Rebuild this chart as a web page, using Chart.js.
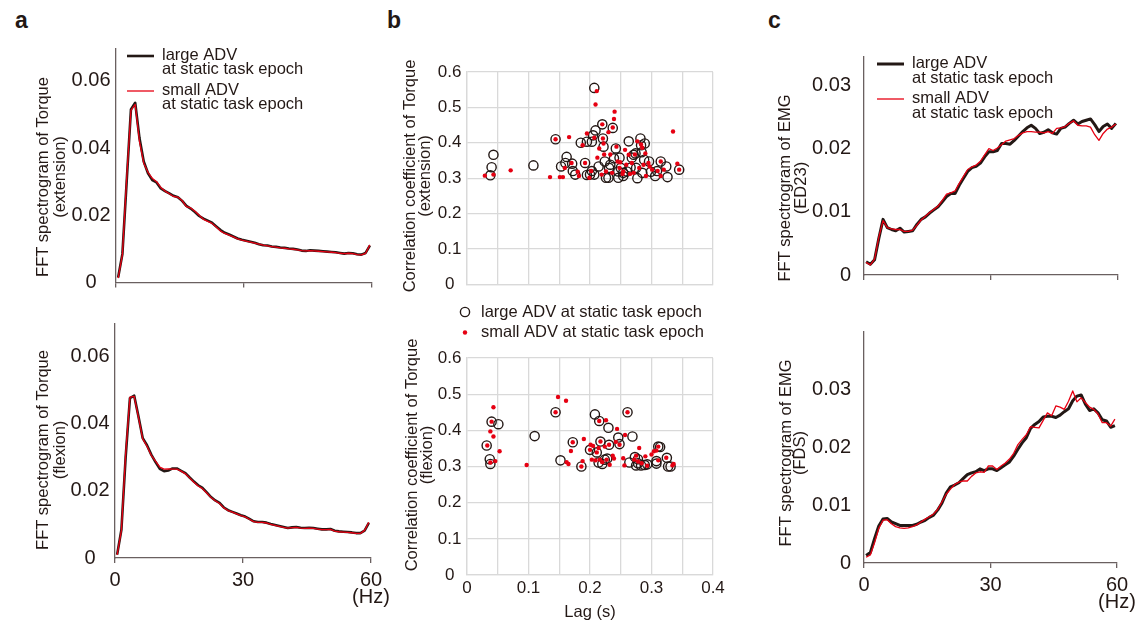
<!DOCTYPE html>
<html>
<head>
<meta charset="utf-8">
<script src="https://cdn.jsdelivr.net/npm/chart.js@4.4.1/dist/chart.umd.min.js"></script>
<style>
body { margin: 0; background: #fff; }
#fig { position: relative; width: 1137px; height: 620px; overflow: hidden; font-family: "Liberation Sans", Arial, sans-serif; color: #231815; }
#fig canvas { position: absolute; }
.lab { position: absolute; font-weight: bold; font-size: 23px; line-height: 1; }
</style>
</head>
<body>
<div id="fig">
  <div class="lab" style="left:15px;top:9px">a</div>
  <div class="lab" style="left:387px;top:9px">b</div>
  <div class="lab" style="left:768px;top:9px">c</div>
  <canvas id="cA1" width="400" height="300" style="left:0;top:0"></canvas>
  <canvas id="cA2" width="400" height="320" style="left:0;top:300px"></canvas>
  <canvas id="cB1" width="370" height="300" style="left:385px;top:0"></canvas>
  <canvas id="cB2" width="370" height="320" style="left:385px;top:300px"></canvas>
  <canvas id="cC1" width="400" height="300" style="left:755px;top:0"></canvas>
  <canvas id="cC2" width="400" height="320" style="left:755px;top:300px"></canvas>
</div>
<script>
// frequency bins (Hz)
const freqs = [0.5, 1.5, 2.5, 3.5, 4.5, 5.5, 6.5, 7.5, 8.5, 9.5,
  10.5, 11.5, 12.5, 13.5, 14.5, 15.5, 16.5, 17.5, 18.5, 19.5,
  20.5, 21.5, 22.5, 23.5, 24.5, 25.5, 26.5, 27.5, 28.5, 29.5,
  30.5, 31.5, 32.5, 33.5, 34.5, 35.5, 36.5, 37.5, 38.5, 39.5,
  40.5, 41.5, 42.5, 43.5, 44.5, 45.5, 46.5, 47.5, 48.5, 49.5,
  50.5, 51.5, 52.5, 53.5, 54.5, 55.5, 56.5, 57.5, 58.5, 59.5];

// a: torque spectra
const torqueExtLarge = [0.0015, 0.0085, 0.030, 0.0515, 0.0535, 0.043, 0.036, 0.0325, 0.0305, 0.0298,
  0.028, 0.0272, 0.0265, 0.0258, 0.0254, 0.0243, 0.0228, 0.0220, 0.0210, 0.0198,
  0.0190, 0.0184, 0.0178, 0.0167, 0.0156, 0.0148, 0.0143, 0.0137, 0.0131, 0.0127,
  0.0124, 0.0121, 0.0118, 0.0114, 0.0111, 0.0110, 0.0107, 0.0106, 0.0104, 0.0103,
  0.0101, 0.0100, 0.0098, 0.0095, 0.0094, 0.0096, 0.0095, 0.0094, 0.0093, 0.0092,
  0.0091, 0.0090, 0.0088, 0.0086, 0.0088, 0.0087, 0.0084, 0.0083, 0.0088, 0.0110];
const torqueExtSmall = [0.0013, 0.0083, 0.031, 0.0512, 0.0530, 0.042, 0.0355, 0.0328, 0.031, 0.0300,
  0.0283, 0.0272, 0.0264, 0.0256, 0.0254, 0.0244, 0.0226, 0.0222, 0.0212, 0.0200,
  0.0188, 0.0182, 0.0176, 0.0165, 0.0153, 0.0146, 0.0141, 0.0136, 0.0130, 0.0126,
  0.0123, 0.0120, 0.0117, 0.0114, 0.0111, 0.0109, 0.0107, 0.0105, 0.0103, 0.0102,
  0.0100, 0.0099, 0.0097, 0.0095, 0.0094, 0.0095, 0.0094, 0.0093, 0.0092, 0.0091,
  0.0090, 0.0089, 0.0087, 0.0086, 0.0087, 0.0086, 0.0083, 0.0082, 0.0087, 0.0112];
const torqueFlxLarge = [0.001, 0.0084, 0.030, 0.0475, 0.0482, 0.042, 0.0356, 0.0335, 0.0307, 0.0285,
  0.0265, 0.0258, 0.0260, 0.0266, 0.0266, 0.0259, 0.0252, 0.0239, 0.0227, 0.0216,
  0.0208, 0.0195, 0.0181, 0.0171, 0.0164, 0.0150, 0.0142, 0.0137, 0.0132, 0.0127,
  0.0123, 0.0116, 0.0109, 0.0107, 0.0107, 0.0105, 0.0101, 0.0098, 0.0095, 0.0092,
  0.0089, 0.0091, 0.0092, 0.0090, 0.0089, 0.0090, 0.0089, 0.0087, 0.0085, 0.0085,
  0.0086, 0.0081, 0.0079, 0.0078, 0.0077, 0.0076, 0.0074, 0.0074, 0.0081, 0.0104];
const torqueFlxSmall = [0.0009, 0.0082, 0.031, 0.0478, 0.0480, 0.0418, 0.0354, 0.0332, 0.0305, 0.0288,
  0.0270, 0.0264, 0.0265, 0.0264, 0.0264, 0.0258, 0.0250, 0.0238, 0.0225, 0.0214,
  0.0206, 0.0193, 0.0180, 0.0170, 0.0162, 0.0149, 0.0141, 0.0136, 0.0131, 0.0126,
  0.0122, 0.0115, 0.0108, 0.0106, 0.0106, 0.0104, 0.0100, 0.0097, 0.0094, 0.0091,
  0.0089, 0.0090, 0.0091, 0.0089, 0.0088, 0.0089, 0.0088, 0.0086, 0.0084, 0.0084,
  0.0085, 0.0080, 0.0078, 0.0077, 0.0076, 0.0075, 0.0073, 0.0073, 0.0082, 0.0106];

// c: EMG spectra
const emgEdLarge = [0.0021, 0.0017, 0.0024, 0.0058, 0.0088, 0.0075, 0.0072, 0.0070, 0.0074, 0.0068,
  0.0069, 0.0070, 0.0080, 0.0088, 0.0092, 0.0098, 0.0103, 0.0108, 0.0116, 0.0124,
  0.0129, 0.0129, 0.0142, 0.0153, 0.0164, 0.0170, 0.0172, 0.0177, 0.0187, 0.0195,
  0.0195, 0.0197, 0.0208, 0.0208, 0.0207, 0.0213, 0.0220, 0.0227, 0.0233, 0.0237,
  0.0232, 0.0224, 0.0226, 0.0230, 0.0225, 0.0223, 0.0232, 0.0234, 0.0240, 0.0245,
  0.0239, 0.0243, 0.0245, 0.0247, 0.0238, 0.0227, 0.0235, 0.0239, 0.0232, 0.0240];
const emgEdSmall = [0.0020, 0.0016, 0.0025, 0.0060, 0.0086, 0.0075, 0.0073, 0.0072, 0.0072, 0.0069,
  0.0069, 0.0071, 0.0079, 0.0087, 0.0093, 0.0099, 0.0104, 0.0109, 0.0118, 0.0128,
  0.0130, 0.0133, 0.0145, 0.0156, 0.0167, 0.0171, 0.0174, 0.0180, 0.0190, 0.0200,
  0.0197, 0.0201, 0.0206, 0.0212, 0.0214, 0.0216, 0.0221, 0.0225, 0.0227, 0.0227,
  0.0226, 0.0226, 0.0225, 0.0227, 0.0224, 0.0232, 0.0233, 0.0235, 0.0240, 0.0244,
  0.0237, 0.0236, 0.0236, 0.0234, 0.0222, 0.0213, 0.0224, 0.0231, 0.0234, 0.0239];
const emgFdsLarge = [0.0013, 0.0018, 0.0042, 0.0064, 0.0076, 0.0077, 0.0071, 0.0068, 0.0065, 0.0065,
  0.0065, 0.0065, 0.0067, 0.0071, 0.0074, 0.0079, 0.0083, 0.0092, 0.0104, 0.0121,
  0.0132, 0.0135, 0.0139, 0.0146, 0.0153, 0.0156, 0.0158, 0.0163, 0.0160, 0.0163,
  0.0163, 0.0160, 0.0165, 0.0170, 0.0175, 0.0185, 0.0197, 0.0208, 0.0217, 0.0233,
  0.0240, 0.0245, 0.0253, 0.0254, 0.0254, 0.0252, 0.0256, 0.0262, 0.0267, 0.0281,
  0.0289, 0.0291, 0.0275, 0.0264, 0.0267, 0.0260, 0.0248, 0.0246, 0.0235, 0.0238];
const emgFdsSmall = [0.0010, 0.0014, 0.0035, 0.0060, 0.0074, 0.0075, 0.0068, 0.0063, 0.0061, 0.0060,
  0.0061, 0.0063, 0.0066, 0.0071, 0.0076, 0.0080, 0.0085, 0.0093, 0.0106, 0.0119,
  0.0128, 0.0136, 0.0140, 0.0142, 0.0142, 0.0150, 0.0156, 0.0158, 0.0157, 0.0168,
  0.0168, 0.0162, 0.0168, 0.0173, 0.0180, 0.0190, 0.0205, 0.0214, 0.0222, 0.0236,
  0.0235, 0.0234, 0.0247, 0.0260, 0.0255, 0.0272, 0.0270, 0.0266, 0.0280, 0.0298,
  0.0279, 0.0286, 0.0278, 0.0270, 0.0266, 0.0258, 0.0243, 0.0243, 0.0237, 0.0249];

// b: [lag (s), correlation coefficient]
const extLarge = [[0.038, 0.308], [0.040, 0.331], [0.043, 0.366], [0.108, 0.336], [0.144, 0.41],
  [0.153, 0.333], [0.162, 0.36], [0.160, 0.343], [0.171, 0.341], [0.172, 0.32], [0.176, 0.31],
  [0.185, 0.40], [0.192, 0.343], [0.195, 0.403], [0.195, 0.309], [0.200, 0.31], [0.203, 0.32],
  [0.203, 0.403], [0.205, 0.421], [0.207, 0.555], [0.207, 0.310], [0.209, 0.435], [0.214, 0.333],
  [0.220, 0.452], [0.221, 0.412], [0.222, 0.389], [0.224, 0.347], [0.226, 0.301], [0.230, 0.301],
  [0.231, 0.329], [0.233, 0.338], [0.237, 0.442], [0.239, 0.356], [0.242, 0.384], [0.246, 0.301],
  [0.246, 0.319], [0.248, 0.358], [0.250, 0.329], [0.254, 0.306], [0.254, 0.315], [0.260, 0.319],
  [0.263, 0.404], [0.266, 0.330], [0.268, 0.358], [0.271, 0.366], [0.274, 0.37], [0.275, 0.329],
  [0.277, 0.300], [0.282, 0.412], [0.283, 0.393], [0.284, 0.373], [0.289, 0.398], [0.285, 0.315],
  [0.288, 0.352], [0.296, 0.347], [0.299, 0.318], [0.306, 0.306], [0.309, 0.32], [0.315, 0.347],
  [0.324, 0.333], [0.326, 0.303], [0.345, 0.324]];
const extSmall = [[0.029, 0.307], [0.043, 0.31], [0.071, 0.322], [0.135, 0.303], [0.151, 0.303],
  [0.156, 0.303], [0.166, 0.416], [0.159, 0.329], [0.144, 0.41], [0.170, 0.343], [0.180, 0.318],
  [0.182, 0.306], [0.188, 0.393], [0.192, 0.343], [0.195, 0.426], [0.199, 0.301], [0.202, 0.32],
  [0.207, 0.414], [0.209, 0.508], [0.211, 0.546], [0.212, 0.358], [0.215, 0.384], [0.219, 0.31],
  [0.220, 0.452], [0.221, 0.412], [0.222, 0.398], [0.223, 0.367], [0.226, 0.319], [0.230, 0.43],
  [0.233, 0.367], [0.236, 0.315], [0.237, 0.443], [0.239, 0.467], [0.240, 0.488], [0.243, 0.389],
  [0.245, 0.347], [0.248, 0.329], [0.249, 0.345], [0.253, 0.312], [0.254, 0.319], [0.257, 0.38],
  [0.259, 0.338], [0.263, 0.366], [0.265, 0.312], [0.268, 0.343], [0.271, 0.315], [0.273, 0.367],
  [0.277, 0.404], [0.280, 0.329], [0.283, 0.395], [0.285, 0.386], [0.287, 0.338], [0.290, 0.37],
  [0.291, 0.306], [0.295, 0.343], [0.297, 0.333], [0.301, 0.324], [0.310, 0.32], [0.315, 0.347],
  [0.315, 0.306], [0.320, 0.324], [0.335, 0.432], [0.342, 0.341], [0.345, 0.324]];
const flxLarge = [[0.032, 0.358], [0.037, 0.32], [0.038, 0.307], [0.040, 0.424], [0.051, 0.417],
  [0.110, 0.384], [0.144, 0.450], [0.152, 0.317], [0.172, 0.367], [0.186, 0.30], [0.200, 0.346],
  [0.208, 0.444], [0.211, 0.339], [0.214, 0.311], [0.215, 0.426], [0.217, 0.369], [0.220, 0.307],
  [0.224, 0.319], [0.228, 0.322], [0.230, 0.407], [0.231, 0.36], [0.246, 0.380], [0.248, 0.362],
  [0.261, 0.450], [0.264, 0.311], [0.269, 0.383], [0.273, 0.326], [0.275, 0.303], [0.278, 0.309],
  [0.278, 0.32], [0.283, 0.303], [0.289, 0.304], [0.293, 0.306], [0.308, 0.315], [0.308, 0.308],
  [0.311, 0.355], [0.314, 0.354], [0.325, 0.324], [0.327, 0.30], [0.331, 0.30]];
const flxSmall = [[0.033, 0.358], [0.038, 0.397], [0.040, 0.424], [0.043, 0.464], [0.043, 0.383],
  [0.046, 0.315], [0.053, 0.342], [0.038, 0.311], [0.097, 0.304], [0.144, 0.450], [0.148, 0.492],
  [0.161, 0.482], [0.162, 0.312], [0.165, 0.307], [0.169, 0.343], [0.172, 0.367], [0.186, 0.30],
  [0.188, 0.315], [0.190, 0.376], [0.200, 0.346], [0.201, 0.36], [0.203, 0.319], [0.205, 0.357],
  [0.209, 0.317], [0.211, 0.339], [0.214, 0.351], [0.215, 0.426], [0.216, 0.319], [0.217, 0.369],
  [0.220, 0.312], [0.224, 0.355], [0.226, 0.428], [0.227, 0.319], [0.231, 0.36], [0.232, 0.305],
  [0.237, 0.33], [0.239, 0.322], [0.242, 0.368], [0.244, 0.404], [0.248, 0.36], [0.254, 0.323],
  [0.256, 0.303], [0.257, 0.387], [0.261, 0.45], [0.272, 0.319], [0.275, 0.33], [0.278, 0.314],
  [0.280, 0.351], [0.284, 0.309], [0.290, 0.328], [0.293, 0.302], [0.300, 0.333], [0.304, 0.342],
  [0.308, 0.344], [0.311, 0.355], [0.311, 0.317], [0.324, 0.324], [0.334, 0.303], [0.336, 0.307]];

// tick values
const hzTicks = [0, 30, 60];
const torqueTicks = [0, 0.02, 0.04, 0.06];
const emgTicks = [0, 0.01, 0.02, 0.03];
const lagTicks = [0, 0.05, 0.1, 0.15, 0.2, 0.25, 0.3, 0.35, 0.4];
const corrTicks = [0, 0.1, 0.2, 0.3, 0.4, 0.5, 0.6];

const FAM = "'Liberation Sans', Arial, sans-serif";
const TXT = "#231815";
const AXIS = "#6a6060";
const GRID = "#d9d9d9";
const BLACK = "#231815";
const RED = "#e60012";

// y-axis titles drawn rotated at a fixed spot
const sideTitle = {
    id: "sideTitle",
    afterDraw(chart, args, o) {
        if (!o || !o.lines) return;
        const ctx = chart.ctx;
        ctx.save();
        ctx.translate(o.x, o.y);
        ctx.rotate(-Math.PI / 2);
        ctx.font = "16.5px " + FAM;
        ctx.fillStyle = TXT;
        ctx.textAlign = "center";
        ctx.textBaseline = "middle";
        o.lines.forEach((t, i) => ctx.fillText(t, 0, i * o.lh));
        ctx.restore();
    },
};

// legend with line samples and two-line labels
const lineLegend = {
    id: "lineLegend",
    afterDraw(chart, args, o) {
        if (!o || !o.show) return;
        const ctx = chart.ctx;
        ctx.save();
        ctx.font = "16.5px " + FAM;
        ctx.textBaseline = "middle";
        chart.data.datasets.forEach((ds, i) => {
            const y = o.y + i * o.gap;
            ctx.strokeStyle = ds.borderColor;
            ctx.lineWidth = ds.borderWidth;
            ctx.beginPath();
            ctx.moveTo(o.x, y + 1);
            ctx.lineTo(o.x + 27, y + 1);
            ctx.stroke();
            ctx.fillStyle = TXT;
            ds.label.split("\n").forEach((t, k) => ctx.fillText(t, o.x + 35, y + k * o.lh));
        });
        ctx.restore();
    },
};

// legend with point markers
const dotLegend = {
    id: "dotLegend",
    afterDraw(chart, args, o) {
        if (!o || !o.show) return;
        const ctx = chart.ctx;
        ctx.save();
        ctx.font = "16.5px " + FAM;
        ctx.textBaseline = "middle";
        chart.data.datasets.forEach((ds, i) => {
            const y = o.y + i * o.gap;
            ctx.beginPath();
            ctx.arc(o.x, y, ds.pointRadius, 0, Math.PI * 2);
            if (ds.borderWidth) {
                ctx.strokeStyle = ds.borderColor;
                ctx.lineWidth = ds.borderWidth;
                ctx.stroke();
            } else {
                ctx.fillStyle = ds.backgroundColor;
                ctx.fill();
            }
            ctx.fillStyle = TXT;
            ctx.fillText(ds.label, o.x + 16, y);
        });
        ctx.restore();
    },
};

function fixedTicks(values) {
    return (scale) => {
        scale.ticks = values.map((v) => ({ value: v }));
    };
}

function toXY(arr) {
    return freqs.map((f, i) => ({ x: f, y: arr[i] }));
}

// spectrum panel (a and c)
function spectrumChart(id, area, large, small, yMax, yTicks, opts) {
    const cv = document.getElementById(id);
    const W = cv.width, H = cv.height;
    return new Chart(cv, {
        type: "line",
        data: {
            datasets: [
                { label: "large ADV\nat static task epoch", data: toXY(large), borderColor: BLACK, borderWidth: opts.blackW, order: 2 },
                { label: "small ADV\nat static task epoch", data: toXY(small), borderColor: RED, borderWidth: 1.3, order: 1 },
            ],
        },
        plugins: [sideTitle, lineLegend],
        options: {
            responsive: false,
            animation: false,
            layout: { padding: { left: 0, top: area.t, right: W - area.r, bottom: 0 } },
            elements: { point: { radius: 0 }, line: { tension: 0, borderJoinStyle: "round" } },
            scales: {
                x: {
                    type: "linear",
                    min: 0,
                    max: 60,
                    afterBuildTicks: fixedTicks(hzTicks),
                    afterFit: (s) => { s.height = H - area.b; },
                    grid: { display: true, drawOnChartArea: false, drawTicks: true, tickLength: 5, color: AXIS, lineWidth: 1.3 },
                    border: { display: true, color: AXIS, width: 1.3 },
                    ticks: {
                        display: opts.xLabels,
                        color: TXT,
                        padding: 9,
                        maxRotation: 0,
                        autoSkip: false,
                        font: { family: FAM, size: 20, lineHeight: 0.85 },
                        callback: (v) => (v === 60 ? ["60", "(Hz)"] : String(v)),
                    },
                },
                y: {
                    min: 0,
                    max: yMax,
                    afterBuildTicks: fixedTicks(yTicks),
                    afterFit: (s) => { s.width = area.l; },
                    grid: { display: false, drawTicks: false },
                    border: { display: true, color: AXIS, width: 1.3 },
                    ticks: {
                        color: TXT,
                        padding: opts.yPad,
                        crossAlign: opts.yAlign,
                        font: { family: FAM, size: 20 },
                        callback: (v) => (v === 0 ? "0" : v.toFixed(2)),
                    },
                },
            },
            plugins: {
                legend: { display: false },
                tooltip: { enabled: false },
                sideTitle: opts.title,
                lineLegend: opts.legend || { show: false },
            },
        },
    });
}

// scatter panel (b)
function scatterChart(id, area, large, small, opts) {
    const cv = document.getElementById(id);
    const W = cv.width, H = cv.height;
    return new Chart(cv, {
        type: "scatter",
        data: {
            datasets: [
                {
                    label: "large ADV at static task epoch",
                    data: large.map(([x, y]) => ({ x, y })),
                    pointRadius: 4.6,
                    borderColor: BLACK,
                    borderWidth: 1.4,
                    backgroundColor: "rgba(0,0,0,0)",
                    order: 2,
                },
                {
                    label: "small ADV at static task epoch",
                    data: small.map(([x, y]) => ({ x, y })),
                    pointRadius: 2.2,
                    borderWidth: 0,
                    backgroundColor: RED,
                    order: 1,
                },
            ],
        },
        plugins: [sideTitle, dotLegend],
        options: {
            responsive: false,
            animation: false,
            layout: { padding: { left: 0, top: area.t, right: W - area.r, bottom: 0 } },
            elements: { point: { hoverRadius: 0 } },
            scales: {
                x: {
                    type: "linear",
                    min: 0,
                    max: 0.4,
                    afterBuildTicks: fixedTicks(lagTicks),
                    afterFit: (s) => { s.height = H - area.b; },
                    grid: { color: GRID, lineWidth: 1.3, drawTicks: false },
                    border: { display: true, color: GRID, width: 1.3 },
                    ticks: {
                        display: opts.xLabels,
                        color: TXT,
                        padding: 3,
                        maxRotation: 0,
                        autoSkip: false,
                        font: { family: FAM, size: 17 },
                        callback: (v) => {
                            const k = Math.round(v * 100);
                            if (k % 10 !== 0) return "";
                            return k === 0 ? "0" : (k / 100).toFixed(1);
                        },
                    },
                    title: {
                        display: opts.xLabels,
                        text: "Lag (s)",
                        color: TXT,
                        padding: 0,
                        font: { family: FAM, size: 16.5, lineHeight: 0.9 },
                    },
                },
                y: {
                    min: 0,
                    max: 0.6,
                    afterBuildTicks: fixedTicks(corrTicks),
                    afterFit: (s) => { s.width = area.l; },
                    grid: { color: GRID, lineWidth: 1.3, drawTicks: false },
                    border: { display: true, color: GRID, width: 1.3 },
                    ticks: {
                        color: TXT,
                        padding: 5.5,
                        crossAlign: "center",
                        font: { family: FAM, size: 17 },
                        callback: (v) => (v === 0 ? "0" : v.toFixed(1)),
                    },
                },
            },
            plugins: {
                legend: { display: false },
                tooltip: { enabled: false },
                sideTitle: opts.title,
                dotLegend: opts.legend || { show: false },
            },
        },
    });
}

spectrumChart("cA1", { l: 116, t: 49, r: 372, b: 284 }, torqueExtLarge, torqueExtSmall, 0.0695, torqueTicks, {
    blackW: 2.6, xLabels: false, yPad: 5.5, yAlign: "center",
    title: { lines: ["FFT spectrogram of Torque", "(extension)"], x: 43, y: 177, lh: 17 },
    legend: { show: true, x: 127, y: 55, gap: 35, lh: 14.5 },
});
spectrumChart("cA2", { l: 115, t: 24, r: 371, b: 258 }, torqueFlxLarge, torqueFlxSmall, 0.0695, torqueTicks, {
    blackW: 2.6, xLabels: true, yPad: 5.5, yAlign: "center",
    title: { lines: ["FFT spectrogram of Torque", "(flexion)"], x: 43, y: 150, lh: 17 },
});
scatterChart("cB1", { l: 82, t: 72, r: 328, b: 289 }, extLarge, extSmall, {
    xLabels: false,
    title: { lines: ["Correlation coefficient of Torque", "(extension)"], x: 25, y: 176, lh: 15.5 },
});
scatterChart("cB2", { l: 82, t: 58, r: 328, b: 275 }, flxLarge, flxSmall, {
    xLabels: true,
    title: { lines: ["Correlation coefficient of Torque", "(flexion)"], x: 27, y: 155, lh: 15 },
    legend: { show: true, x: 80, y: 12, gap: 20.5 },
});
spectrumChart("cC1", { l: 109, t: 57, r: 363, b: 289 }, emgEdLarge, emgEdSmall, 0.0345, emgTicks, {
    blackW: 3, xLabels: false, yPad: 13, yAlign: "near",
    title: { lines: ["FFT spectrogram of EMG", "(ED23)"], x: 30, y: 188, lh: 16.5 },
    legend: { show: true, x: 122, y: 63, gap: 35, lh: 15 },
});
spectrumChart("cC2", { l: 109, t: 32, r: 362, b: 263 }, emgFdsLarge, emgFdsSmall, 0.04, emgTicks, {
    blackW: 3, xLabels: true, yPad: 13, yAlign: "near",
    title: { lines: ["FFT spectrogram of EMG", "(FDS)"], x: 31, y: 153, lh: 14.5 },
});
</script>
</body>
</html>
